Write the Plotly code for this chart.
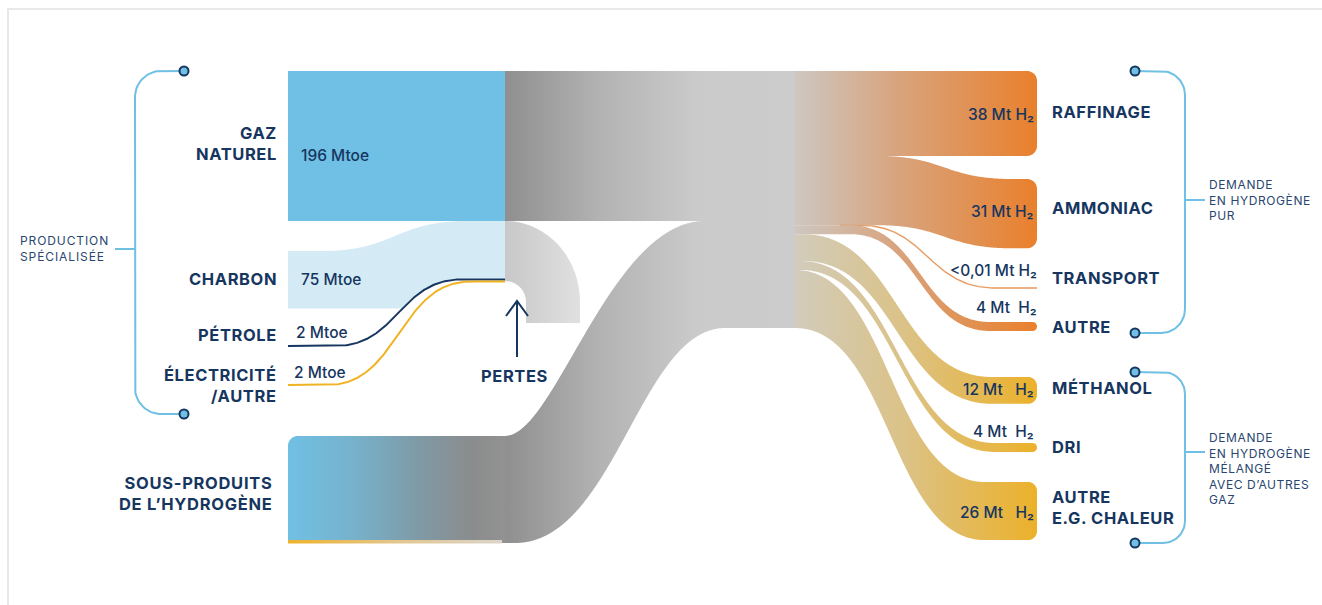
import numpy as np
import plotly.graph_objects as go

# ---------------- data ----------------
source_names = ["GAZ<br>NATUREL", "CHARBON", "PÉTROLE", "ÉLECTRICITÉ<br>/AUTRE"]
source_mtoe = [196, 75, 2, 2]
source_value_text = ["196 Mtoe", "75 Mtoe", "2 Mtoe", "2 Mtoe"]
byproduct_name = "SOUS-PRODUITS<br>DE L’HYDROGÈNE"

pure_names = ["RAFFINAGE", "AMMONIAC", "TRANSPORT", "AUTRE"]
pure_mt_h2 = [38, 31, 0.01, 4]
pure_value_text = ["38 Mt H₂", "31 Mt H₂", "<0,01 Mt H₂", "4 Mt  H₂"]

mixed_names = ["MÉTHANOL", "DRI", "AUTRE<br>E.G. CHALEUR"]
mixed_mt_h2 = [12, 4, 26]
mixed_value_text = ["12 Mt   H₂", "4 Mt  H₂", "26 Mt   H₂"]

group_texts = ["PRODUCTION<br>SPÉCIALISÉE",
               "DEMANDE<br>EN HYDROGÈNE<br>PUR",
               "DEMANDE<br>EN HYDROGÈNE<br>MÉLANGÉ<br>AVEC D’AUTRES<br>GAZ"]
loss_text = "PERTES"

# ---------------- layout / style ----------------
W, H = 1322, 605
NAVY = "#163660"
GNAVY = "#2a4670"
LBLUE = "#6fc0e4"
PALE = "#d4ebf6"
YEL = "#f0b323"
FONT = "Inter"
K_TOE = 0.765      # px per Mtoe
K_H2 = 2.235       # px per Mt H2
XL0, XL1, XHUB, XR1 = 288, 505, 795, 1037
Y0 = 71
src_anchor_y = [71, 251, 346, 385]
BY_BOTTOM = 543
pure_dest_y = [71, 179, 288, 322]
mixed_dest_y = [377, 443, 482]
pure_bend = [(877, 1012), (877, 1012), (860, 995), (850, 990)]
mixed_bend = [(803, 992), (800, 995), (795, 985)]

ORANGE = [[0, "#cdc7c1"], [0.42, "#d8a47e"], [1, "#e9802c"]]
YELLOW = [[0, "#d2ccbc"], [0.45, "#dbc287"], [1, "#ecb12a"]]
HUBG = [[0, "#8f8f8f"], [0.33, "#b3b3b3"], [0.67, "#cbcbcb"], [1, "#cccccc"]]
BOXG = [[0, "#70c0e4"], [0.3, "#76b2cc"], [0.6, "#7f9aa6"], [0.85, "#8b8c8d"], [1, "#929292"]]

fig = go.Figure()


def bez_edge(xs, x0, x1, y0, y1, c0=0.5, c1=0.5, n=600):
    t = np.linspace(0, 1, n)
    dx = x1 - x0
    px = [x0, x0 + c0 * dx, x1 - c1 * dx, x1]
    bx = (1 - t) ** 3 * px[0] + 3 * (1 - t) ** 2 * t * px[1] + 3 * (1 - t) * t ** 2 * px[2] + t ** 3 * px[3]
    by = (1 - t) ** 3 * y0 + 3 * (1 - t) ** 2 * t * y0 + 3 * (1 - t) * t ** 2 * y1 + t ** 3 * y1
    return np.interp(xs, bx, by)


def poly(X, Y, color=None, grad=None, start=None, stop=None):
    kw = dict(x=list(X), y=list(Y), mode="none", fill="toself", hoverinfo="skip", showlegend=False)
    if grad is not None:
        kw["fillgradient"] = dict(type="horizontal", colorscale=grad, start=start, stop=stop)
    else:
        kw["fillcolor"] = color
    fig.add_trace(go.Scatter(**kw))


def line(X, Y, color, width=2):
    fig.add_trace(go.Scatter(x=list(X), y=list(Y), mode="lines", line=dict(color=color, width=width),
                             hoverinfo="skip", showlegend=False))


def right_band(ys, h, yd, bx0, bx1, grad, r=9):
    r = min(r, h / 2)
    xs = np.linspace(XHUB, XR1 - r, 300)
    top = bez_edge(xs, bx0, bx1, ys, yd)
    bot = top + h
    a1 = np.linspace(-np.pi / 2, 0, 14)
    a2 = np.linspace(0, np.pi / 2, 14)
    cx = XR1 - r
    X = np.concatenate([xs, cx + r * np.cos(a1), cx + r * np.cos(a2), xs[::-1]])
    Y = np.concatenate([top, yd + r + r * np.sin(a1), yd + h - r + r * np.sin(a2), bot[::-1]])
    poly(X, Y, grad=grad, start=XHUB, stop=XR1)


def bracket(xc, xv, y_top, y_bot, y_tick, r):
    d = 1 if xv > xc else -1
    a1 = np.linspace(-np.pi / 2, 0, 20)
    a2 = np.linspace(0, np.pi / 2, 20)
    cx = xv - d * r
    X = np.concatenate([[xc], cx + d * r * np.cos(a1), cx + d * r * np.cos(a2), [xc]])
    Y = np.concatenate([[y_top], y_top + r + r * np.sin(a1), y_bot - r + r * np.sin(a2), [y_bot]])
    line(X, Y, LBLUE, 2)
    line([xv, xv + d * 20], [y_tick, y_tick], LBLUE, 2)
    fig.add_trace(go.Scatter(x=[xc, xc], y=[y_top, y_bot], mode="markers",
                             marker=dict(size=9, color=LBLUE, line=dict(color=NAVY, width=2)),
                             hoverinfo="skip", showlegend=False))


def spaced(s, ls, size):
    return "<br>".join(f'<span style="letter-spacing:{ls}px;font-size:{size}px">{l}</span>'
                       for l in s.split("<br>"))


def h2(s):
    return s.replace("<", "&lt;").replace(" ", "\u00a0")


def ann(x, y, text, size, weight=400, xanchor="left", align="left", color=NAVY):
    fig.add_annotation(x=x, y=y, xref="x", yref="y", text=text, showarrow=False,
                       xanchor=xanchor, yanchor="middle", align=align, borderpad=0, borderwidth=0,
                       font=dict(family=FONT, size=size, color=color, weight=weight))


# ---------------- geometry derived from the values ----------------
gaz_h = source_mtoe[0] * K_TOE
char_h = source_mtoe[1] * K_TOE
hub_h = (sum(pure_mt_h2) + sum(mixed_mt_h2)) * K_H2
arm_h = hub_h - gaz_h
arm_top = BY_BOTTOM - arm_h
join_top = Y0 + gaz_h
pet_join = join_top + char_h + source_mtoe[2] * K_TOE * 0.7
ele_join = pet_join + 2.2

# brackets
bracket(184, 135, 71, 414, 249, 26)
bracket(1135, 1185, 71, 333, 200, 24)
bracket(1135, 1185, 372, 543, 452, 22)

# charbon band
xs = np.linspace(XL0, XL1, 300)
pet_y = bez_edge(xs, 335, 462, src_anchor_y[2], pet_join)
ele_y = bez_edge(xs, 328, 470, src_anchor_y[3], ele_join)
ch_top = bez_edge(xs, 322, 468, src_anchor_y[1], join_top)
ch_bot = np.minimum(src_anchor_y[1] + char_h, pet_y - 0.8)
poly(np.concatenate([xs, xs[::-1]]), np.concatenate([ch_top, ch_bot[::-1]]), color=PALE)
line(xs, pet_y, NAVY, 2)
line(xs, ele_y, YEL, 2)

# gaz naturel block
poly([XL0, XL1, XL1, XL0], [Y0, Y0, Y0 + gaz_h, Y0 + gaz_h], color=LBLUE)

# sous-produits box (rounded top-left)
r = 10
a = np.linspace(np.pi, 1.5 * np.pi, 16)
bxX = np.concatenate([[XL0], XL0 + r + r * np.cos(a), [XL1, XL1]])
bxY = np.concatenate([[BY_BOTTOM], arm_top + r + r * np.sin(a), [arm_top, BY_BOTTOM]])
poly(bxX, bxY, grad=BOXG, start=XL0, stop=XL1)
poly([XL0, 502, 502, XL0], [BY_BOTTOM - 3, BY_BOTTOM - 3, BY_BOTTOM + 0.5, BY_BOTTOM + 0.5],
     grad=[[0, "#eeb22c"], [0.5, "#e3c68c"], [1, "#dbd5ca"]], start=XL0, stop=502)

# grey hub (main band + by-product arm)
xh = np.linspace(XL1, XHUB, 400)
inner = bez_edge(xh, 515, 725, BY_BOTTOM, Y0 + hub_h, c0=0.476, c1=0.405)
xo = np.linspace(XL1, 705, 300)
outer = bez_edge(xo, XL1, 705, arm_top, join_top, c0=0.25, c1=0.475)
HX = np.concatenate([[XL1, XHUB, XHUB], xh[::-1], [XL1], xo, [XL1]])
HY = np.concatenate([[Y0, Y0, Y0 + hub_h], inner[::-1], [BY_BOTTOM], outer, [join_top]])
poly(HX, HY, grad=HUBG, start=XL1, stop=XHUB)

# losses arc
cy, rin, rx, bottom = 302, 21, 75, 323
ry = cy - join_top
t = np.linspace(0, np.pi / 2, 40)
LX = np.concatenate([XL1 + rx * np.sin(t), [XL1 + rx, XL1 + rin], XL1 + rin * np.sin(t[::-1])])
LY = np.concatenate([cy - ry * np.cos(t), [bottom, bottom], cy - rin * np.cos(t[::-1])])
poly(LX, LY, grad=[[0, "#c8c8c8"], [1, "#e0e0e0"]], start=XL1, stop=XL1 + rx)

# outflows: pure hydrogen
ys = Y0
for i, v in enumerate(pure_mt_h2):
    h = v * K_H2
    if h < 1:
        xt = np.linspace(840, XR1, 200)
        line(xt, bez_edge(xt, *pure_bend[i], ys, pure_dest_y[i]), "#e79b60", 1.4)
    else:
        right_band(ys, h, pure_dest_y[i], *pure_bend[i], ORANGE, r=10)
    ys += h
# outflows: mixed hydrogen
for i, v in enumerate(mixed_mt_h2):
    h = v * K_H2
    right_band(ys, h, mixed_dest_y[i], *mixed_bend[i], YELLOW, r=9)
    ys += h

# losses arrow
line([517, 517], [357, 302], NAVY, 2)
line([506, 517, 528], [316, 301, 316], NAVY, 2)

# ---------------- texts ----------------
NS = 16.5   # node label size
VS = 15.5   # value label size
GS = 12     # group label size

src_name_y = [143, 279, 335, 385]
for nm, y in zip(source_names, src_name_y):
    ann(277, y, spaced(nm, 0.6, NS), NS, weight=700, xanchor="right", align="right")
ann(272, 493, spaced(byproduct_name, 0.7, NS), NS, weight=700, xanchor="right", align="right")

src_val_x = [301, 301, 296, 294]
src_val_y = [155, 279, 332, 372]
for tx, x, y in zip(source_value_text, src_val_x, src_val_y):
    ann(x, y, tx, VS, weight=500)

ann(514, 376, spaced(loss_text, 0.6, NS), NS, weight=700, xanchor="center", align="center")

pure_name_y = [112, 208, 278, 327]
pure_val_y = [114, 211, 270, 307]
pure_val_x = [1034, 1034, 1037, 1037]
for nm, y in zip(pure_names, pure_name_y):
    ann(1052, y, spaced(nm, 0.6, NS), NS, weight=700)
for tx, x, y in zip(pure_value_text, pure_val_x, pure_val_y):
    ann(x, y, h2(tx), VS, weight=500, xanchor="right", align="right")

mixed_name_y = [388, 447, 507]
mixed_val_y = [389, 431, 512]
for nm, y in zip(mixed_names, mixed_name_y):
    ann(1052, y, spaced(nm, 0.6, NS), NS, weight=700)
for tx, y in zip(mixed_value_text, mixed_val_y):
    ann(1034, y, h2(tx), VS, weight=500, xanchor="right", align="right")

ann(20, 248, spaced(group_texts[0], 0.9, GS), GS, color=GNAVY)
ann(1209, 200, spaced(group_texts[1], 0.6, GS), GS, color=GNAVY)
ann(1209, 468, spaced(group_texts[2], 0.6, GS), GS, color=GNAVY)

# frame
fig.add_shape(type="rect", x0=8, y0=9, x1=1340, y1=640, line=dict(color="#e9e9e9", width=2),
              fillcolor="rgba(0,0,0,0)", layer="below")

fig.update_layout(
    width=W, height=H, margin=dict(l=0, r=0, t=0, b=0),
    paper_bgcolor="white", plot_bgcolor="white", showlegend=False,
    xaxis=dict(range=[0, W], visible=False, fixedrange=True),
    yaxis=dict(range=[H, 0], visible=False, fixedrange=True),
)
fig.write_html("out.html")
